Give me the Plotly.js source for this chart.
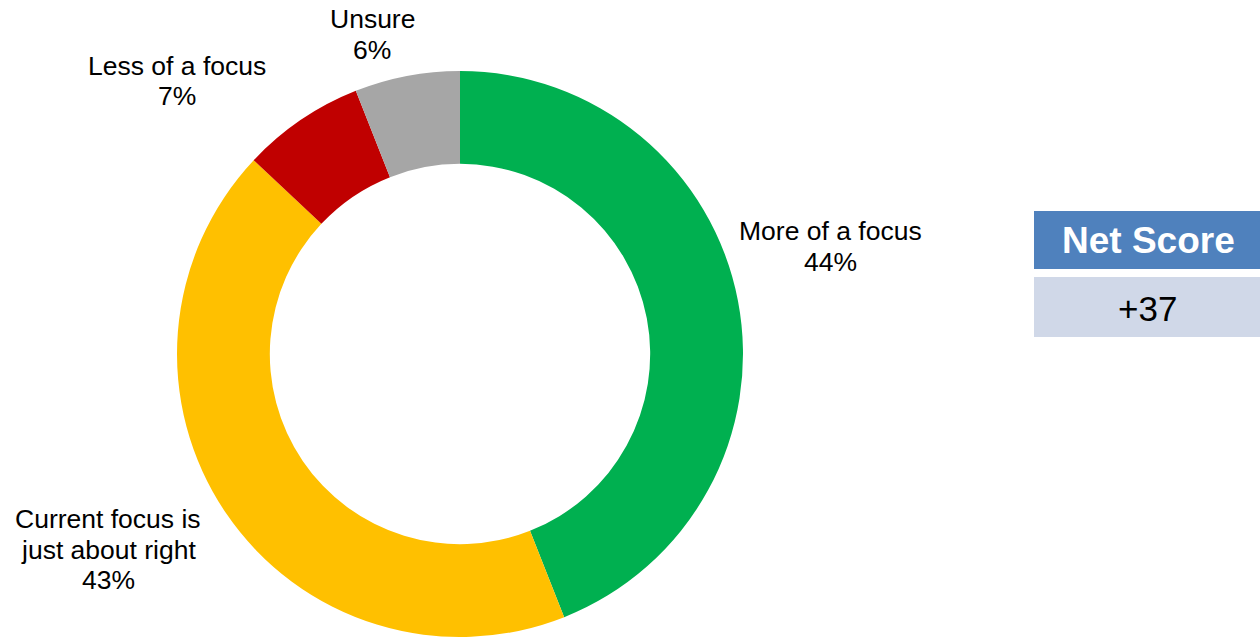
<!DOCTYPE html>
<html>
<head>
<meta charset="utf-8">
<script src="https://cdn.plot.ly/plotly-3.0.1.min.js"></script>
<style>html,body{margin:0;padding:0;background:#fff;}#chart{width:1260px;height:637px;}</style>
</head>
<body>
<div id="chart"></div>
<script>
const categories = ["More of a focus", "Current focus is just about right", "Less of a focus", "Unsure"];
const labelLines = [["More of a focus"], ["Current focus is", "just about right"], ["Less of a focus"], ["Unsure"]];
const values = [44, 43, 7, 6];
const colors = ["#00B050", "#FFC000", "#C00000", "#A6A6A6"];
const netScoreTitle = "Net Score";
const netScoreValue = "+37";

const W = 1260, H = 637;
const px = x => x / W;
const py = y => 1 - y / H;
const FONT = "Arial, 'Liberation Sans', sans-serif";

// pixel centre x and first-line centre y of each label block
const labelPos = [[830, 231], [108, 519], [177, 66], [372, 19]];
const LINE = 30.5;

const annotations = [];
categories.forEach((c, i) => {
  const lines = labelLines[i].concat([values[i] + "%"]);
  lines.forEach((t, k) => {
    annotations.push({
      xref: "paper", yref: "paper",
      x: px(labelPos[i][0]), y: py(labelPos[i][1] + k * LINE),
      xanchor: "center", yanchor: "middle",
      text: t, showarrow: false, align: "center",
      font: {family: FONT, size: 26.5, color: "#000"}
    });
  });
});
annotations.push({
  xref: "paper", yref: "paper", x: px(1148), y: py(241),
  xanchor: "center", yanchor: "middle", showarrow: false,
  text: "<b>" + netScoreTitle + "</b>",
  font: {family: FONT, size: 37, color: "#FFFFFF"}
});
annotations.push({
  xref: "paper", yref: "paper", x: px(1147), y: py(308),
  xanchor: "center", yanchor: "middle", showarrow: false,
  text: netScoreValue,
  font: {family: FONT, size: 35, color: "#000000"}
});

const data = [{
  type: "pie",
  labels: categories,
  values: values,
  hole: 0.672,
  sort: false,
  direction: "clockwise",
  rotation: 0,
  textinfo: "none",
  hoverinfo: "label+percent",
  marker: {colors: colors, line: {width: 0}},
  domain: {x: [px(460 - 283), px(460 + 283)], y: [0, 566 / H]},
  showlegend: false
}];

const layout = {
  width: W, height: H,
  margin: {l: 0, r: 0, t: 0, b: 0},
  paper_bgcolor: "#FFFFFF",
  plot_bgcolor: "#FFFFFF",
  showlegend: false,
  annotations: annotations,
  shapes: [
    {type: "rect", xref: "paper", yref: "paper", x0: px(1034), x1: px(1260), y0: py(269), y1: py(211),
     fillcolor: "#4F81BD", line: {width: 0}, layer: "below"},
    {type: "rect", xref: "paper", yref: "paper", x0: px(1034), x1: px(1260), y0: py(337), y1: py(277),
     fillcolor: "#D0D8E8", line: {width: 0}, layer: "below"}
  ]
};

Plotly.newPlot("chart", data, layout, {displayModeBar: false});
</script>
</body>
</html>
